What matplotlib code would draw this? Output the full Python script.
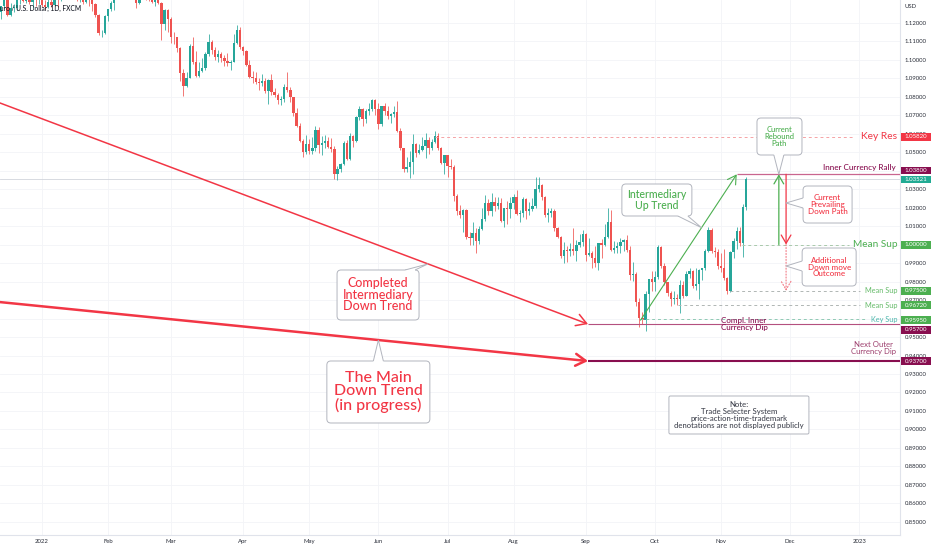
import numpy as np
import pandas as pd
import matplotlib
matplotlib.use('Agg')
import matplotlib.pyplot as plt
from matplotlib.patches import FancyBboxPatch, Polygon, Rectangle
from matplotlib.transforms import IdentityTransform, blended_transform_factory, offset_copy

plt.rcParams['font.family'] = ['Lato', 'DejaVu Sans']

# daily EUR/USD bars, FXCM, from 2021-12-14 to 2022-11-11
first_day = '2021-12-14'
n_before = 14  # December 2021 bars before the first 2022 bar

opens = [
    1.1285, 1.1258, 1.1288, 1.1330, 1.1240, 1.1280, 1.1280, 1.1330, 1.1330, 1.1320, 1.1330, 1.1310, 1.1350, 1.1325,
    1.1370, 1.1296, 1.1287, 1.1312, 1.1297, 1.1360, 1.1326, 1.1367, 1.1443, 1.1453, 1.1411, 1.1405, 1.1325, 1.1343,
    1.1310, 1.1343, 1.1325, 1.1300, 1.1240, 1.1143, 1.1145,
    1.1235, 1.1272, 1.1305, 1.1440, 1.1458, 1.1440, 1.1413, 1.1420, 1.1425, 1.1349, 1.1306, 1.1358, 1.1374, 1.1362,
    1.1322, 1.1310, 1.1330, 1.1307, 1.1195, 1.1270,
    1.1218, 1.1125, 1.1120, 1.1065, 1.0930, 1.0855, 1.0900, 1.1075, 1.0985, 1.0912, 1.0940, 1.0955, 1.1030, 1.1095,
    1.1050, 1.1015, 1.1030, 1.1007, 1.0995, 1.0984, 1.0985, 1.1088, 1.1158,
    1.1067, 1.1045, 1.0971, 1.0905, 1.0901, 1.0880, 1.0875, 1.0885, 1.0830, 1.0890, 1.0825, 1.0808, 1.0780, 1.0785,
    1.0852, 1.0835, 1.0798, 1.0714, 1.0640, 1.0560, 1.0498,
    1.0545, 1.0505, 1.0525, 1.0620, 1.0540, 1.0550, 1.0560, 1.0530, 1.0515, 1.0380, 1.0410, 1.0435, 1.0550, 1.0465,
    1.0585, 1.0560, 1.0690, 1.0735, 1.0680, 1.0725, 1.0735, 1.0780,
    1.0735, 1.0650, 1.0750, 1.0720, 1.0695, 1.0705, 1.0715, 1.0615, 1.0520, 1.0410, 1.0420, 1.0445, 1.0545, 1.0495,
    1.0510, 1.0535, 1.0565, 1.0520, 1.0555, 1.0585, 1.0520, 1.0442,
    1.0482, 1.0425, 1.0422, 1.0265, 1.0183, 1.0160, 1.0185, 1.0040, 1.0035, 1.0060, 1.0020, 1.0085, 1.0140, 1.0225,
    1.0180, 1.0230, 1.0210, 1.0225, 1.0130, 1.0200, 1.0195,
    1.0225, 1.0260, 1.0165, 1.0170, 1.0245, 1.0180, 1.0195, 1.0210, 1.0300, 1.0320, 1.0260, 1.0160, 1.0170, 1.0180,
    1.0090, 1.0040, 0.9940, 0.9970, 0.9965, 0.9975, 0.9965, 1.0000, 1.0015,
    1.0055, 0.9945, 0.9955, 0.9930, 0.9900, 1.0010, 1.0000, 1.0040, 1.0120, 0.9970, 0.9980, 0.9995, 1.0015, 1.0025,
    0.9970, 0.9835, 0.9840, 0.9690, 0.9605, 0.9590, 0.9735, 0.9815,
    0.9800, 0.9825, 0.9985, 0.9885, 0.9795, 0.9740, 0.9705, 0.9710, 0.9705, 0.9780, 0.9720, 0.9840, 0.9855, 0.9775,
    0.9785, 0.9860, 0.9875, 0.9965, 1.0080, 0.9965, 0.9960,
    0.9885, 0.9875, 0.9820, 0.9750, 0.9960, 1.0020, 1.0075, 1.0010, 1.0205,
]
highs = [
    1.1306, 1.1285, 1.1360, 1.1340, 1.1305, 1.1300, 1.1336, 1.1342, 1.1340, 1.1335, 1.1345, 1.1370, 1.1360, 1.1386,
    1.1376, 1.1322, 1.1346, 1.1332, 1.1364, 1.1364, 1.1375, 1.1452, 1.1482, 1.1465, 1.1425, 1.1410, 1.1360, 1.1370,
    1.1363, 1.1360, 1.1330, 1.1305, 1.1245, 1.1160, 1.1240,
    1.1275, 1.1315, 1.1450, 1.1483, 1.1468, 1.1450, 1.1448, 1.1495, 1.1440, 1.1365, 1.1368, 1.1395, 1.1386, 1.1375,
    1.1395, 1.1365, 1.1345, 1.1310, 1.1273, 1.1275,
    1.1232, 1.1150, 1.1125, 1.1070, 1.0950, 1.0935, 1.1085, 1.1120, 1.1045, 1.0985, 1.1010, 1.1043, 1.1138, 1.1105,
    1.1070, 1.1050, 1.1040, 1.1025, 1.1036, 1.1000, 1.1137, 1.1185, 1.1175,
    1.1075, 1.1053, 1.1000, 1.0938, 1.0935, 1.0900, 1.0925, 1.0900, 1.0895, 1.0925, 1.0845, 1.0820, 1.0805, 1.0870,
    1.0936, 1.0850, 1.0800, 1.0740, 1.0655, 1.0570, 1.0595,
    1.0570, 1.0580, 1.0641, 1.0636, 1.0585, 1.0590, 1.0580, 1.0575, 1.0535, 1.0425, 1.0440, 1.0560, 1.0565, 1.0605,
    1.0595, 1.0695, 1.0750, 1.0740, 1.0735, 1.0765, 1.0787, 1.0787,
    1.0765, 1.0750, 1.0765, 1.0750, 1.0710, 1.0750, 1.0775, 1.0630, 1.0525, 1.0475, 1.0505, 1.0600, 1.0550, 1.0545,
    1.0580, 1.0605, 1.0580, 1.0570, 1.0615, 1.0605, 1.0530, 1.0485,
    1.0485, 1.0465, 1.0430, 1.0275, 1.0215, 1.0190, 1.0190, 1.0070, 1.0120, 1.0090, 1.0098, 1.0200, 1.0270, 1.0245,
    1.0278, 1.0255, 1.0255, 1.0250, 1.0200, 1.0235, 1.0255,
    1.0275, 1.0295, 1.0185, 1.0255, 1.0250, 1.0230, 1.0250, 1.0365, 1.0368, 1.0330, 1.0265, 1.0200, 1.0200, 1.0190,
    1.0095, 1.0045, 1.0015, 0.9995, 1.0010, 1.0090, 1.0025, 1.0055, 1.0080,
    1.0060, 1.0035, 0.9965, 0.9990, 1.0010, 1.0030, 1.0110, 1.0198, 1.0185, 1.0020, 1.0015, 1.0035, 1.0030, 1.0050,
    0.9990, 0.9905, 0.9850, 0.9710, 0.9635, 0.9750, 0.9815, 0.9855,
    0.9855, 0.9999, 0.9995, 0.9900, 0.9800, 0.9750, 0.9750, 0.9735, 0.9810, 0.9805, 0.9855, 0.9875, 0.9865, 0.9875,
    0.9870, 0.9875, 0.9975, 1.0095, 1.0090, 0.9985, 0.9975,
    0.9955, 0.9975, 0.9825, 0.9965, 1.0035, 1.0095, 1.0095, 1.0222, 1.0365,
]
lows = [
    1.1252, 1.1222, 1.1280, 1.1236, 1.1234, 1.1260, 1.1270, 1.1300, 1.1312, 1.1305, 1.1300, 1.1280, 1.1290, 1.1300,
    1.1283, 1.1272, 1.1280, 1.1285, 1.1290, 1.1285, 1.1315, 1.1360, 1.1432, 1.1400, 1.1390, 1.1320, 1.1312, 1.1300,
    1.1305, 1.1290, 1.1263, 1.1230, 1.1135, 1.1121, 1.1140,
    1.1208, 1.1262, 1.1270, 1.1413, 1.1415, 1.1395, 1.1405, 1.1375, 1.1340, 1.1280, 1.1300, 1.1335, 1.1325, 1.1315,
    1.1305, 1.1290, 1.1300, 1.1106, 1.1160, 1.1150,
    1.1090, 1.1085, 1.1040, 1.0885, 1.0806, 1.0850, 1.0900, 1.0975, 1.0905, 1.0905, 1.0935, 1.0945, 1.1020, 1.1030,
    1.1000, 1.0990, 1.0990, 1.0965, 1.0965, 1.0945, 1.0985, 1.1085, 1.1060,
    1.1027, 1.0965, 1.0900, 1.0875, 1.0870, 1.0837, 1.0860, 1.0820, 1.0758, 1.0808, 1.0800, 1.0760, 1.0757, 1.0770,
    1.0825, 1.0770, 1.0697, 1.0637, 1.0556, 1.0472, 1.0490,
    1.0490, 1.0490, 1.0505, 1.0495, 1.0485, 1.0525, 1.0520, 1.0500, 1.0355, 1.0350, 1.0390, 1.0430, 1.0460, 1.0460,
    1.0530, 1.0555, 1.0675, 1.0640, 1.0660, 1.0700, 1.0725, 1.0700,
    1.0627, 1.0640, 1.0700, 1.0680, 1.0655, 1.0690, 1.0610, 1.0510, 1.0395, 1.0395, 1.0360, 1.0380, 1.0475, 1.0490,
    1.0505, 1.0470, 1.0490, 1.0510, 1.0550, 1.0510, 1.0435, 1.0382,
    1.0365, 1.0410, 1.0235, 1.0160, 1.0145, 1.0070, 1.0030, 0.9999, 0.9998, 0.9952, 1.0005, 1.0080, 1.0125, 1.0160,
    1.0155, 1.0180, 1.0195, 1.0120, 1.0095, 1.0110, 1.0145,
    1.0195, 1.0160, 1.0120, 1.0150, 1.0140, 1.0160, 1.0180, 1.0200, 1.0285, 1.0240, 1.0150, 1.0120, 1.0150, 1.0075,
    1.0035, 0.9925, 0.9900, 0.9905, 0.9940, 0.9945, 0.9910, 0.9985, 0.9995,
    0.9910, 0.9940, 0.9875, 0.9880, 0.9865, 0.9930, 0.9995, 1.0035, 0.9965, 0.9955, 0.9955, 0.9955, 0.9965, 0.9960,
    0.9810, 0.9805, 0.9670, 0.9555, 0.9570, 0.9535, 0.9635, 0.9750,
    0.9750, 0.9815, 0.9875, 0.9780, 0.9720, 0.9670, 0.9680, 0.9675, 0.9632, 0.9710, 0.9720, 0.9820, 0.9765, 0.9755,
    0.9705, 0.9808, 0.9860, 0.9960, 0.9955, 0.9935, 0.9870,
    0.9850, 0.9810, 0.9730, 0.9745, 0.9930, 0.9975, 0.9995, 0.9935, 1.0185,
]
closes = [
    1.1258, 1.1288, 1.1330, 1.1240, 1.1280, 1.1280, 1.1330, 1.1330, 1.1320, 1.1330, 1.1310, 1.1350, 1.1325, 1.1370,
    1.1296, 1.1287, 1.1312, 1.1297, 1.1360, 1.1326, 1.1367, 1.1443, 1.1453, 1.1411, 1.1405, 1.1325, 1.1343, 1.1310,
    1.1343, 1.1325, 1.1300, 1.1240, 1.1143, 1.1145, 1.1235,
    1.1272, 1.1305, 1.1440, 1.1458, 1.1440, 1.1413, 1.1420, 1.1425, 1.1349, 1.1306, 1.1358, 1.1374, 1.1362, 1.1322,
    1.1310, 1.1330, 1.1307, 1.1195, 1.1270, 1.1218,
    1.1125, 1.1120, 1.1065, 1.0930, 1.0855, 1.0900, 1.1075, 1.0985, 1.0912, 1.0940, 1.0955, 1.1030, 1.1095, 1.1050,
    1.1015, 1.1030, 1.1007, 1.0995, 1.0984, 1.0985, 1.1088, 1.1158, 1.1067,
    1.1045, 1.0971, 1.0905, 1.0901, 1.0880, 1.0875, 1.0885, 1.0830, 1.0890, 1.0825, 1.0808, 1.0780, 1.0785, 1.0852,
    1.0835, 1.0798, 1.0714, 1.0640, 1.0560, 1.0498, 1.0545,
    1.0505, 1.0525, 1.0620, 1.0540, 1.0550, 1.0560, 1.0530, 1.0515, 1.0380, 1.0410, 1.0435, 1.0550, 1.0465, 1.0585,
    1.0560, 1.0690, 1.0735, 1.0680, 1.0725, 1.0735, 1.0780, 1.0735,
    1.0650, 1.0750, 1.0720, 1.0695, 1.0705, 1.0715, 1.0615, 1.0520, 1.0410, 1.0420, 1.0445, 1.0545, 1.0495, 1.0510,
    1.0535, 1.0565, 1.0520, 1.0555, 1.0585, 1.0520, 1.0442, 1.0482,
    1.0425, 1.0422, 1.0265, 1.0183, 1.0160, 1.0185, 1.0040, 1.0035, 1.0060, 1.0020, 1.0085, 1.0140, 1.0225, 1.0180,
    1.0230, 1.0210, 1.0225, 1.0130, 1.0200, 1.0195, 1.0225,
    1.0260, 1.0165, 1.0170, 1.0245, 1.0180, 1.0195, 1.0210, 1.0300, 1.0320, 1.0260, 1.0160, 1.0170, 1.0180, 1.0090,
    1.0040, 0.9940, 0.9970, 0.9965, 0.9975, 0.9965, 1.0000, 1.0015, 1.0055,
    0.9945, 0.9955, 0.9930, 0.9900, 1.0010, 1.0000, 1.0040, 1.0120, 0.9970, 0.9980, 0.9995, 1.0015, 1.0025, 0.9970,
    0.9835, 0.9840, 0.9690, 0.9605, 0.9590, 0.9735, 0.9815, 0.9800,
    0.9825, 0.9985, 0.9885, 0.9795, 0.9740, 0.9705, 0.9710, 0.9705, 0.9780, 0.9720, 0.9840, 0.9855, 0.9775, 0.9785,
    0.9860, 0.9875, 0.9965, 1.0080, 0.9965, 0.9960, 0.9885,
    0.9875, 0.9820, 0.9750, 0.9960, 1.0020, 1.0075, 1.0010, 1.0205, 1.0352,
]

month_labels = ['2022', 'Feb', 'Mar', 'Apr', 'May', 'Jun', 'Jul', 'Aug', 'Sep', 'Oct', 'Nov', 'Dec', '2023']
price_ticks = [round(0.85 + 0.01 * k, 2) for k in range(28)]

last_price = 1.03521
key_res = 1.0582
inner_rally = 1.0380
mean_sup = [1.0000, 0.9750, 0.9672]
key_sup = 0.9595
inner_dip = 0.9570
outer_dip = 0.9370

# trend lines as (bar index, price) pairs, bar 0 = 2022-01-03
inter_down = [(-13.4, 1.0766), (173.7, inner_dip)]
main_down = [(-13.4, 0.9689), (173.7, outer_dip)]
up_trend = [(190.4, 0.9591), (221.0, inner_rally)]

UP, DOWN = '#26a69a', '#ef5350'
RED, GREEN, MAROON = '#f23645', '#4caf50', '#880e4f'
BORDER = '#b2b5be'

fig = plt.figure(figsize=(9.32, 5.5), dpi=100)
ax = fig.add_axes([0, 15 / 550, 900 / 932, 535 / 550])
XL = (-13.36, 272.94)
YL = (0.842926, 1.132277)
ax.set_xlim(*XL)
ax.set_ylim(*YL)

# axes look
for s in ['top', 'left']:
    ax.spines[s].set_visible(False)
for s in ['right', 'bottom']:
    ax.spines[s].set_color('#e0e3eb')
    ax.spines[s].set_linewidth(0.8)
ax.yaxis.tick_right()
ax.set_yticks(price_ticks)
ax.set_yticklabels([f'{v:.5f}' for v in price_ticks])
ax.tick_params(axis='y', length=0, pad=3.6, labelsize=4.3, labelcolor='#2a2e39')

all_days = pd.bdate_range(first_day, '2023-01-31')
month_pos = [i - n_before for i, d in enumerate(all_days)
             if i > 0 and d.month != all_days[i - 1].month]
ax.set_xticks(month_pos)
ax.set_xticklabels(month_labels)
ax.tick_params(axis='x', length=0, pad=3.2, labelsize=4.3, labelcolor='#2a2e39')
ax.grid(color='#f3f4f7', lw=0.6)
ax.set_axisbelow(True)

ax.text(1.005, 1 - 7 / 535, 'USD', transform=ax.transAxes, fontsize=4.3,
        color='#2a2e39', va='center', ha='left')
ax.text(-0.004, 1 - 8 / 535, 'Euro / U.S. Dollar, 1D, FXCM', transform=ax.transAxes,
        fontsize=4.8, color='#131722', fontweight='medium', va='center', ha='left', zorder=10)

# candles
o, h, l, c = (np.array(v) for v in (opens, highs, lows, closes))
x = np.arange(len(c)) - n_before
col = np.where(c >= o, UP, DOWN)
ax.vlines(x, l, h, colors=col, lw=0.55, zorder=2)
ax.bar(x, np.maximum(np.abs(c - o), 0.0003), bottom=np.minimum(o, c), width=0.75,
       color=col, lw=0, zorder=3)

# horizontal levels
dash = (0, (3, 3))
ax.axhline(last_price, color='#d1d4dc', lw=0.6, zorder=1)
ax.hlines(key_res, 125.0, 258.6, colors='#f5a3a6', lw=0.7, linestyles=dash, zorder=4)
ax.hlines(inner_rally, up_trend[1][0], XL[1], colors='#c9658f', lw=0.9, zorder=4)
ax.hlines(mean_sup[0], 222.7, 256.7, colors='#a9c9ab', lw=0.7, linestyles=dash, zorder=4)
ax.hlines(mean_sup[1], 218.8, 260.2, colors='#b0b6b4', lw=0.7, linestyles=dash, zorder=4)
ax.hlines(mean_sup[2], 202.3, 260.2, colors='#b0b6b4', lw=0.7, linestyles=dash, zorder=4)
ax.hlines(key_sup, 190.2, 261.8, colors='#8fcab4', lw=0.7, linestyles=dash, zorder=4)
ax.hlines(inner_dip, inter_down[1][0], XL[1], colors='#b4507f', lw=0.8, zorder=4)
ax.hlines(outer_dip, main_down[1][0], XL[1], colors=MAROON, lw=1.5, zorder=4)


def arrow(p0, p1, color, lw, head=(0.72, 0.43), ms=10, ls='-'):
    ax.annotate('', xy=p1, xytext=p0, annotation_clip=False,
                arrowprops=dict(arrowstyle=f'->,head_length={head[0]},head_width={head[1]}',
                                mutation_scale=ms, color=color, lw=lw, ls=ls,
                                shrinkA=0, shrinkB=0), zorder=5)


arrow(*inter_down, RED, 1.1)
arrow(*main_down, RED, 1.8)
arrow(*up_trend, GREEN, 0.8, head=(0.6, 0.35))
arrow((234.4, mean_sup[0]), (234.4, inner_rally), GREEN, 0.9, head=(0.6, 0.35))
arrow((236.7, inner_rally), (236.7, mean_sup[0]), RED, 0.9, head=(0.6, 0.35))
arrow((236.7, mean_sup[0]), (236.7, mean_sup[1]), '#f27a85', 0.8, head=(0.6, 0.35), ls=':')


def on_line(seg, xi):
    (x0, y0), (x1, y1) = seg
    return xi, y0 + (y1 - y0) * (xi - x0) / (x1 - x0)


def callout(text, cx, cy, w, h, tip=None, color=RED, size=8, lsp=1.0, r=4, half=5):
    ident = IdentityTransform()
    X, Y = ax.transData.transform((cx, cy))
    x0, y0, x1, y1 = X - w / 2, Y - h / 2, X + w / 2, Y + h / 2
    ax.add_patch(FancyBboxPatch((x0, y0), w, h, boxstyle=f'round,pad=0,rounding_size={r}',
                                transform=ident, fc='white', ec=BORDER, lw=0.7, zorder=6))
    if tip is not None:
        tx, ty = ax.transData.transform(tip)
        if ty > y1 or ty < y0:
            ey = y1 if ty > y1 else y0
            bx = min(max(tx, x0 + r + half), x1 - r - half)
            b1, b2 = (bx - half, ey), (bx + half, ey)
            inn = (0, -1.5) if ty > y1 else (0, 1.5)
        else:
            ex = x0 if tx < x0 else x1
            by = min(max(ty, y0 + r + half), y1 - r - half)
            b1, b2 = (ex, by - half), (ex, by + half)
            inn = (1.5, 0) if tx < x0 else (-1.5, 0)
        ax.add_patch(Polygon([(b1[0] + inn[0], b1[1] + inn[1]), b1, (tx, ty), b2,
                              (b2[0] + inn[0], b2[1] + inn[1])], closed=True,
                             transform=ident, fc='white', ec='none', zorder=6.1))
        ax.add_patch(Polygon([b1, (tx, ty), b2], closed=False, fill=False,
                             transform=ident, ec=BORDER, lw=0.7, zorder=6.2))
    ax.text(X, Y, text, transform=ident, ha='center', va='center', color=color,
            fontsize=size, linespacing=lsp, fontweight='medium', zorder=7)


callout('Completed\nIntermediary\nDown Trend', 106.9, 0.97273, 82, 50,
        tip=on_line(inter_down, 122.8), size=9, lsp=0.95)
callout('The Main\nDown Trend\n(in progress)', 107.0, 0.92027, 103, 62,
        tip=on_line(main_down, 107.0), size=11.5, lsp=0.95)
callout('Intermediary\nUp Trend', 195.6, 1.02411, 70, 32,
        tip=on_line(up_trend, 209.8), color=GREEN, size=7.6, lsp=0.95)
callout('Current\nRebound\nPath', 234.6, 1.05845, 45, 37,
        tip=(234.4, inner_rally), color=GREEN, size=5.5, lsp=0.95)
callout('Current\nPrevailing\nDown Path', 249.9, 1.02167, 49, 37,
        tip=(236.7, 1.0225), size=5.8, lsp=0.95)
callout('Additional\nDown move\nOutcome', 250.4, 0.98787, 54, 38,
        tip=(236.7, 0.9884), size=5.8, lsp=0.95)
callout('Note:\nTrade Selecter System\nprice-action-time-trademark\n'
        'denotations are not displayed publicly', 221.7, 0.90783, 140, 38,
        color='#434651', size=5.6, lsp=0.95, r=1.5)

# level names on the right
xr = 272.0
ax.text(xr, key_res, 'Key Res', color=RED, fontsize=7.4, ha='right', va='center', zorder=7)
ax.text(xr - 0.3, 1.04142, 'Inner Currency Rally', color=MAROON, fontsize=5.9, ha='right',
        va='center', fontweight='medium', zorder=7)
ax.text(xr, mean_sup[0], 'Mean Sup', color=GREEN, fontsize=7.2, ha='right', va='center', zorder=7)
ax.text(xr, mean_sup[1], 'Mean Sup', color='#66bb6a', fontsize=5.3, ha='right', va='center', zorder=7)
ax.text(xr, mean_sup[2], 'Mean Sup', color='#66bb6a', fontsize=5.3, ha='right', va='center', zorder=7)
ax.text(xr, key_sup, 'Key Sup', color='#4db6ac', fontsize=5.3, ha='right', va='center', zorder=7)
ax.text(xr - 0.3, 0.94407, 'Next Outer\nCurrency Dip', color='#9c3d6c', fontsize=5.6,
        ha='right', va='center', multialignment='center', linespacing=1.0, zorder=7)
ax.text(223.3, inner_dip, 'Compl. Inner\nCurrency Dip', color=MAROON, fontsize=5.8,
        ha='center', va='center', linespacing=1.05, fontweight='medium', zorder=7)

# price tags on the scale
tags = [
    (key_res, 0, RED),
    (inner_rally, -3.8, MAROON),
    (last_price, 0, '#22ab94'),
    (mean_sup[0], 0, GREEN),
    (mean_sup[1], 0, GREEN),
    (mean_sup[2], 0, GREEN),
    (key_sup, 0.8, GREEN),
    (inner_dip, 5.6, MAROON),
    (outer_dip, 0, MAROON),
]
bt = blended_transform_factory(ax.transAxes, ax.transData)
for val, shift, colr in tags:
    tr = offset_copy(bt, fig=fig, x=0, y=-shift, units='dots')
    ax.add_patch(Rectangle((901 / 900, val - 0.00214), 30 / 900, 0.00428, transform=tr,
                           fc=colr, ec='none', clip_on=False, zorder=8))
    ax.text(916 / 900, val, f'{val:.5f}', transform=tr, color='white', fontsize=4.4,
            ha='center', va='center', clip_on=False, zorder=9)

ax.set_xlim(*XL)
ax.set_ylim(*YL)
fig.savefig('out.png', dpi=100)
